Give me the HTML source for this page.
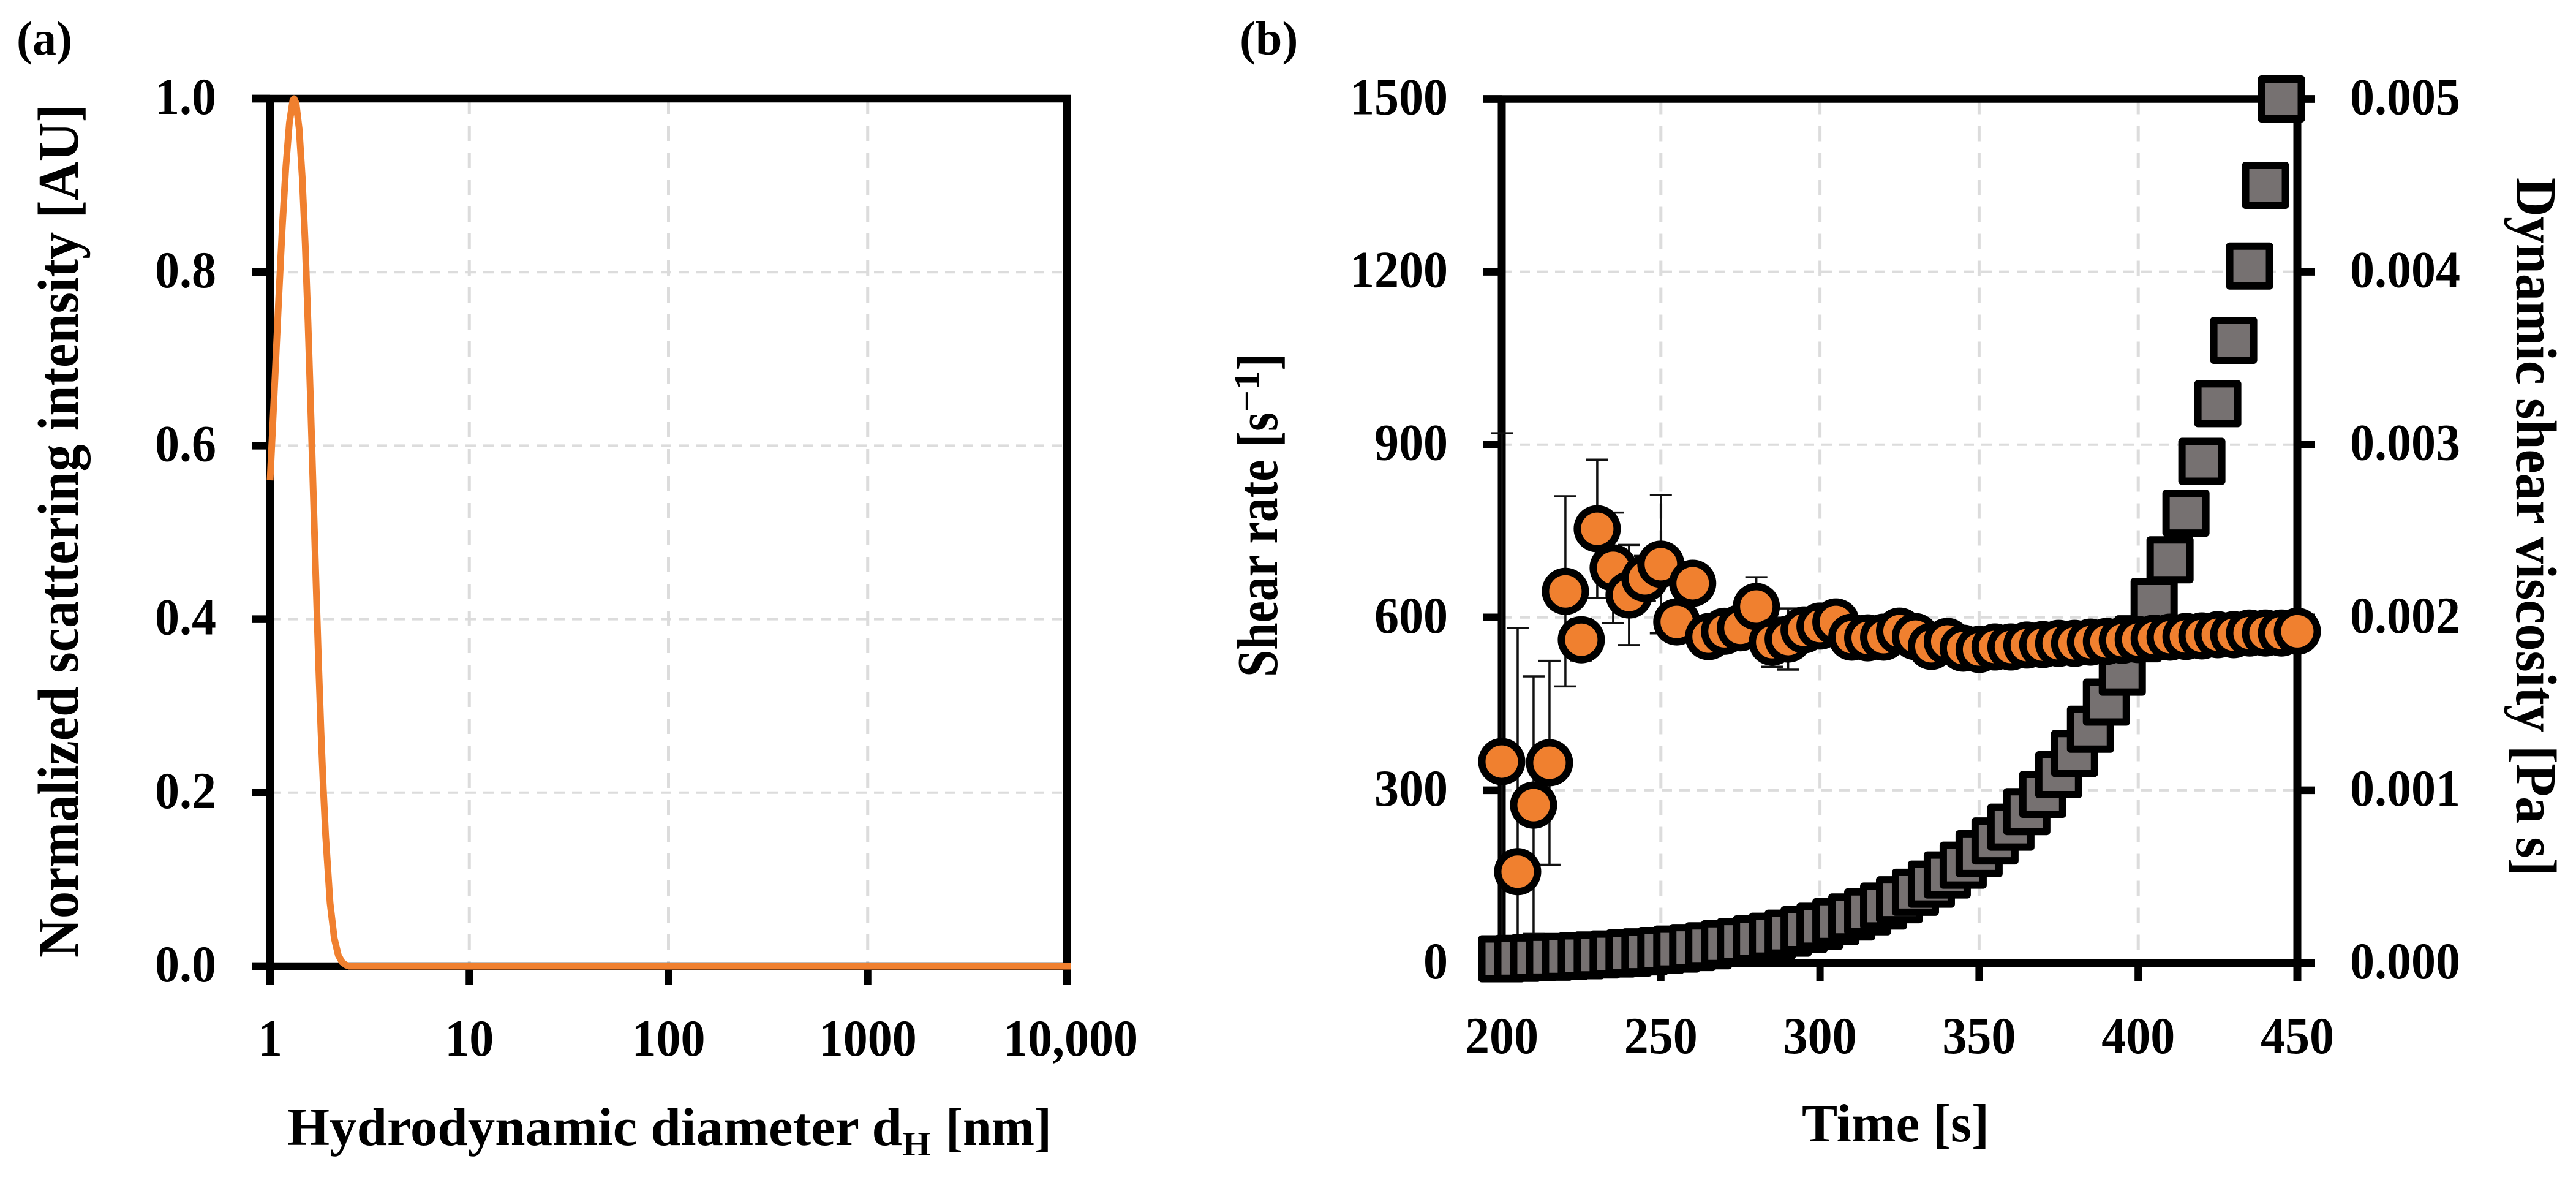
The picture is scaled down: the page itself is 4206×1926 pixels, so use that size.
<!DOCTYPE html>
<html lang="en">
<head>
<meta charset="utf-8">
<title>Scattering intensity and shear viscosity charts</title>
<style>
html,body{margin:0;padding:0;background:#fff;}
svg{display:block;}
text{font-family:"Liberation Serif",serif;font-weight:bold;fill:#000;}
</style>
</head>
<body>
<svg id="chart" xmlns="http://www.w3.org/2000/svg" width="4206" height="1926" viewBox="0 0 4206 1926">
  <rect width="4206" height="1926" fill="#ffffff"/>
  <g id="a-grid"></g>
  <g id="a-axes"></g>
  <g id="a-series"></g>
  <g id="b-grid"></g>
  <g id="b-axes"></g>
  <g id="b-errors"></g>
  <g id="b-squares"></g>
  <g id="b-circles"></g>
  <g id="labels"></g>

  <text x="27" y="89" font-size="78">(a)</text>
  <text x="2024" y="89" font-size="78">(b)</text>

  <text font-size="88" y="1869"><tspan x="469" textLength="1004" lengthAdjust="spacingAndGlyphs">Hydrodynamic diameter d</tspan><tspan x="1473" y="1886" font-size="56" textLength="47" lengthAdjust="spacingAndGlyphs">H</tspan><tspan x="1544" y="1869" textLength="173" lengthAdjust="spacingAndGlyphs">[nm]</tspan></text>
  <text font-size="94" transform="translate(127,1563) rotate(-90)" textLength="1393" lengthAdjust="spacingAndGlyphs">Normalized scattering intensity [AU]</text>
  <text font-size="88" x="2942" y="1863" textLength="306" lengthAdjust="spacingAndGlyphs">Time [s]</text>
  <text font-size="94" transform="translate(2085,1105) rotate(-90)"><tspan x="0" y="0" textLength="432" lengthAdjust="spacingAndGlyphs">Shear rate [s</tspan><tspan x="432" y="-30" font-size="58" textLength="68" lengthAdjust="spacingAndGlyphs">−1</tspan><tspan x="500" y="0" textLength="29" lengthAdjust="spacingAndGlyphs">]</tspan></text>
  <text font-size="94" transform="translate(4109,290) rotate(90)" textLength="1140" lengthAdjust="spacingAndGlyphs">Dynamic shear viscosity [Pa s]</text>
</svg>
<script>
// Panel (a) data
const diameterNm = [1,1.05,1.1,1.15,1.2,1.25,1.3,1.32,1.35,1.4,1.45,1.5,1.55,1.6,1.65,1.7,1.75,1.8,1.85,1.9,2,2.1,2.2,2.3,2.4,2.5,3,10,100,1000,10000];
const intensity = [0.56,0.662,0.761,0.849,0.922,0.972,0.998,1,0.995,0.965,0.909,0.833,0.742,0.642,0.541,0.442,0.352,0.272,0.205,0.15,0.073,0.032,0.0126,0.0045,0.0014,0,0,0,0,0,0];
const aXTicks = [1,10,100,1000,10000];
const aXTickLabels = ["1","10","100","1000","10,000"];
const aYTicks = [0,0.2,0.4,0.6,0.8,1];
const aYTickLabels = ["0.0","0.2","0.4","0.6","0.8","1.0"];

// Panel (b) data
const timeSquares = [200,205,210,215,220,225,230,235,240,245,250,255,260,265,270,275,280,285,290,295,300,305,310,315,320,325,330,335,340,345,350,355,360,365,370,375,380,385,390,395,400,405,410,415,420,425,430,435,440,445];
const shearRate = [7.4,8.2,9.2,10.2,11.4,12.7,14.1,15.8,17.6,19.6,21.8,24.3,27,30,33.7,37.6,42,46.6,52,58,64,72,80,89,99,110,123,137,153,170,190,212,236,263,293,327,364,406,453,505,563,628,700,781,871,971,1081,1210,1350,1500];
const timeCircles = [200,205,210,215,220,225,230,235,240,245,250,255,260,265,270,275,280,285,290,295,300,305,310,315,320,325,330,335,340,345,350,355,360,365,370,375,380,385,390,395,400,405,410,415,420,425,430,435,440,445,450];
const viscosity = [0.001166,0.000529,0.000914,0.001159,0.002151,0.001871,0.002513,0.002287,0.00213,0.002226,0.002308,0.001974,0.002198,0.001889,0.00192,0.00194,0.002063,0.001857,0.001875,0.001928,0.00195,0.001974,0.001886,0.001882,0.001886,0.001921,0.001889,0.001833,0.001861,0.001822,0.001815,0.001829,0.001829,0.00184,0.001843,0.00185,0.00185,0.001857,0.001861,0.001868,0.001872,0.00188,0.001886,0.00189,0.001893,0.0019,0.0019,0.00191,0.00191,0.00191,0.00192];
const viscosityError = [0.0019,0.00141,0.000745,0.00059,0.00055,0.00012,0.0004,0.00032,0.00029,0.00013,0.0004,0.0001,0.00006,0.00006,0.00006,0.00006,0.00017,0.000142,0.000177,0.00006,0.00006,0.00006,0.00005,0.00005,0.00005,0.00005,0.00005,0.00005,0.00005,0.00004,0.00004,0.00004,0.00004,0.00004,0.00004,0.00004,0.00004,0.00003,0.00003,0.00003,0.00003,0.00003,0.00003,0.00003,0.00003,0.00003,0.00003,0.00003,0.00003,0.00003,0.00003];
const bXTicks = [200,250,300,350,400,450];
const bLeftTicks = [0,300,600,900,1200,1500];
const bRightTicks = [0,0.001,0.002,0.003,0.004,0.005];
const bRightTickLabels = ["0.000","0.001","0.002","0.003","0.004","0.005"];

// Frames and scales
const A = {left:441, right:1742, top:161, bottom:1577};
const B = {left:2452, right:3751, top:161.5, bottom:1572};
const ax = d => A.left + Math.log10(d) * (A.right - A.left) / 4;
const ay = v => A.bottom - v * (A.bottom - A.top);
const bx = t => B.left + (t - 200) * (B.right - B.left) / 250;
const byLeft = v => B.bottom - v * (B.bottom - B.top) / 1500;
const byRight = v => B.bottom - v * (B.bottom - B.top) / 0.005;

const NS = "http://www.w3.org/2000/svg";
function mk(parent, tag, attrs) {
  const el = document.createElementNS(NS, tag);
  for (const k in attrs) el.setAttribute(k, attrs[k]);
  parent.appendChild(el);
  return el;
}
function $(id) { return document.getElementById(id); }
function gridStyle(dash, width) {
  return {stroke:"#dcdcdc", "stroke-width":width, "stroke-dasharray":dash, fill:"none"};
}
function drawGrid(group, frame, xs, ys) {
  xs.forEach(x => {
    const l = mk(group, "line", Object.assign({x1:x, x2:x, y1:frame.top, y2:frame.bottom}, gridStyle("25 19", 5)));
    
    
  });
  ys.forEach(y => {
    const l = mk(group, "line", Object.assign({x1:frame.left, x2:frame.right, y1:y, y2:y}, gridStyle("17 12", 4)));
    
    
  });
}
function bar(group, x1, y1, x2, y2, w) {
  const l = mk(group, "line", {x1:x1, y1:y1, x2:x2, y2:y2, stroke:"#000", "stroke-width":w});
  
  
}
function tickLen(s) {
  let n = 0;
  for (const c of s) n += (c === "." || c === ",") ? 0.25 : 0.5;
  return n * 80;
}
function tickText(str, x, y, anchor) {
  const t = mk($("labels"), "text", {x:x, y:y, "font-size":85, "text-anchor":anchor, textLength:tickLen(str), lengthAdjust:"spacingAndGlyphs"});
  t.textContent = str;
  
  
}

// Panel (a)
drawGrid($("a-grid"), A, aXTicks.slice(1, -1).map(ax), aYTicks.slice(1, -1).map(ay));
const aAxes = $("a-axes");
bar(aAxes, A.left, A.top - 6, A.left, A.bottom + 30, 13);
bar(aAxes, A.right, A.top - 6, A.right, A.bottom + 30, 13);
bar(aAxes, A.left - 30, A.top, A.right + 6, A.top, 12.5);
bar(aAxes, A.left - 30, A.bottom, A.right + 6, A.bottom, 12.5);
aYTicks.forEach((v, i) => {
  bar(aAxes, A.left - 30, ay(v), A.left, ay(v), 12.5);
  tickText(aYTickLabels[i], 353, ay(v) + 25, "end");
});
aXTicks.forEach((d, i) => {
  bar(aAxes, ax(d), A.bottom, ax(d), A.bottom + 30, 12);
  tickText(aXTickLabels[i], ax(d) + (i === 4 ? 6 : 0), 1723, "middle");
});
const curve = mk($("a-series"), "path", {
  d: diameterNm.map((d, i) => (i ? "L" : "M") + ax(d).toFixed(1) + " " + ay(intensity[i]).toFixed(1)).join(" ") + " h6",
  fill:"none", stroke:"#F0802F", "stroke-width":11, "stroke-linejoin":"round"
});



// Panel (b)
drawGrid($("b-grid"), B, bXTicks.slice(1, -1).map(bx), bLeftTicks.slice(1, -1).map(byLeft));
const bAxes = $("b-axes");
bar(bAxes, B.left, B.top - 6, B.left, B.bottom + 30, 13);
bar(bAxes, B.right, B.top - 6, B.right, B.bottom + 30, 13);
bar(bAxes, B.left - 30, B.top, B.right + 29, B.top, 12.5);
bar(bAxes, B.left - 30, B.bottom, B.right + 29, B.bottom, 12.5);
bLeftTicks.forEach(v => {
  bar(bAxes, B.left - 30, byLeft(v), B.left, byLeft(v), 12.5);
  tickText(String(v), 2364, byLeft(v) + 25, "end");
});
bRightTicks.forEach((v, i) => {
  bar(bAxes, B.right, byRight(v), B.right + 29, byRight(v), 12.5);
  tickText(bRightTickLabels[i], 3837, byRight(v) + 25, "start");
});
bXTicks.forEach(t => {
  bar(bAxes, bx(t), B.bottom, bx(t), B.bottom + 30, 12);
  tickText(String(t), bx(t), 1719, "middle");
});

// Error bars (clipped to the plot floor)
timeCircles.forEach((t, i) => {
  const x = bx(t);
  const hi = byRight(viscosity[i] + viscosityError[i]);
  const lo = Math.min(byRight(viscosity[i] - viscosityError[i]), B.bottom);
  const g = mk($("b-errors"), "path", {
    d: "M" + x + " " + hi + " V" + lo + " M" + (x - 18) + " " + hi + " h36" +
       (lo < B.bottom ? " M" + (x - 18) + " " + lo + " h36" : ""),
    stroke:"#111", "stroke-width":3.5, fill:"none"
  });
  
  
});

// Squares: shear rate on the left axis
timeSquares.forEach((t, i) => {
  const s = mk($("b-squares"), "rect", {
    x: bx(t) - 32.5, y: byLeft(shearRate[i]) - 32.5, width: 65, height: 65,
    fill:"#767171", stroke:"#000", "stroke-width":12, "stroke-linejoin":"round"
  });
  
  
});

// Circles: viscosity on the right axis
timeCircles.forEach((t, i) => {
  const c = mk($("b-circles"), "circle", {
    cx: bx(t), cy: byRight(viscosity[i]), r: 32.5,
    fill:"#F0802F", stroke:"#000", "stroke-width":12
  });
  
  
});
</script>
</body>
</html>
